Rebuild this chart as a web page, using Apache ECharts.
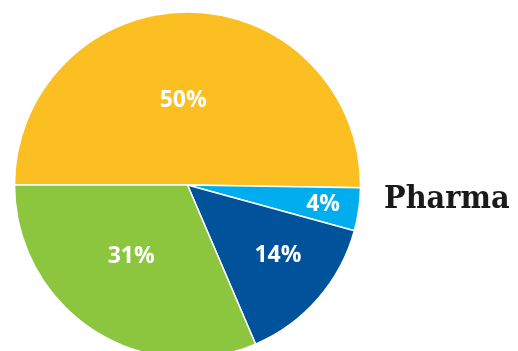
<!DOCTYPE html>
<html>
<head>
<meta charset="utf-8">
<script src="https://cdn.jsdelivr.net/npm/echarts@6/dist/echarts.min.js"></script>
<style>
  html, body { margin: 0; padding: 0; background: #fff; }
  #chart { width: 518px; height: 351px; }
</style>
</head>
<body>
<div id="chart"></div>
<script>
const segments = ["Segment A", "Segment B", "Segment C", "Segment D"]
const shares = [50.2, 4.0, 14.3, 31.4]
const colors = ["#FBBF22", "#00AEEF", "#00539B", "#8CC63F"]
// nudges so labels sit where the original put them
const labelShift = [[-5, 5], [47, 7], [23, 12], [-7, -3]]

const chart = echarts.init(document.getElementById("chart"))

const option = {
  animation: false,
  title: {
    text: "Pharma",
    left: 379,
    top: 179,
    textStyle: {
      fontFamily: "DejaVu Serif Condensed",
      fontWeight: "bold",
      fontSize: 32,
      color: "#1a1a1a"
    }
  },
  series: [{
    type: "pie",
    center: [187.5, 185],
    radius: 173,
    startAngle: 180,
    clockwise: true,
    data: segments.map((name, i) => ({
      name: name,
      value: shares[i],
      itemStyle: { color: colors[i] }
    })),
    itemStyle: {
      borderColor: "#fff",
      borderWidth: 1.5
    },
    label: {
      show: true,
      position: "inside",
      formatter: p => Math.round(p.value) + "%",
      color: "#fff",
      fontFamily: "Open Sans",
      fontWeight: "bold",
      fontSize: 23
    },
    labelLine: { show: false },
    labelLayout: params => ({
      dx: labelShift[params.dataIndex][0],
      dy: labelShift[params.dataIndex][1]
    }),
    emphasis: { disabled: true }
  }]
}

chart.setOption(option)
</script>
</body>
</html>
